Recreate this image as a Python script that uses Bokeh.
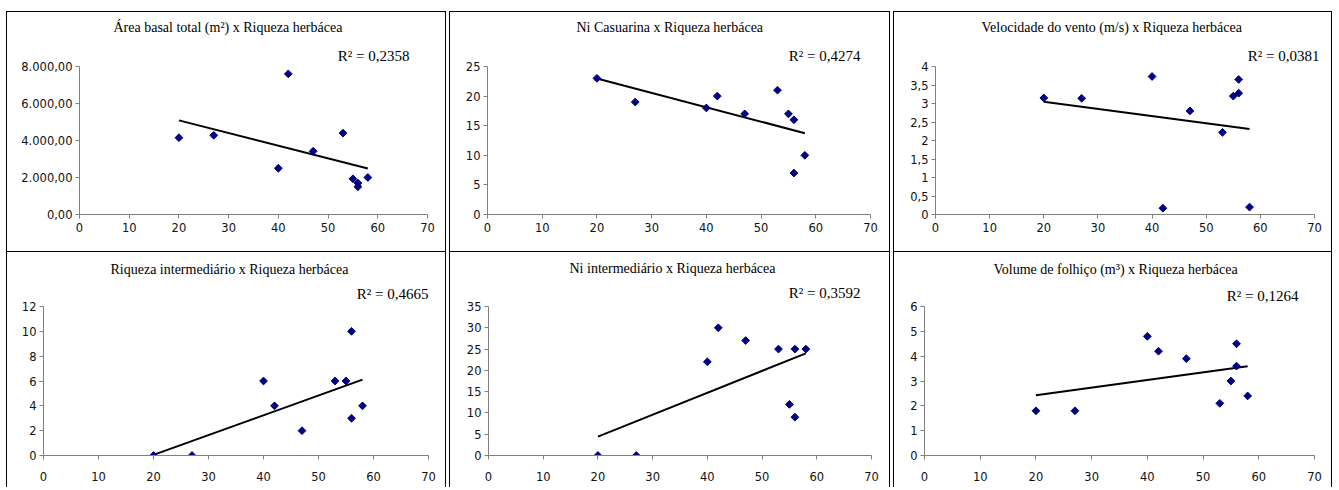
import numpy as np
from bokeh.plotting import figure
from bokeh.models import Title, FixedTicker, Spacer
from bokeh.layouts import row, column
from bokeh.embed import file_html
from bokeh.resources import INLINE

# ---------------- data ----------------
riqueza_herbacea = [20, 27, 40, 42, 47, 53, 55, 56, 56, 58]

area_basal = [4150, 4280, 2500, 7600, 3420, 4400, 1930, 1700, 1500, 2000]
ni_casuarina = [23, 19, 18, 20, 17, 21, 17, 16, 7, 10]
velocidade_vento = [3.15, 3.14, 3.73, 0.17, 2.80, 2.22, 3.20, 3.65, 3.28, 0.20]
riqueza_intermediario = [0, 0, 6, 4, 2, 6, 6, 10, 3, 4]
ni_intermediario = [0, 0, 22, 30, 27, 25, 12, 25, 9, 25]
volume_folhico = [1.8, 1.8, 4.8, 4.2, 3.9, 2.1, 3.0, 4.5, 3.6, 2.4]

titles = [
    "Área basal total (m²) x Riqueza herbácea",
    "Ni Casuarina x Riqueza herbácea",
    "Velocidade do vento (m/s)  x Riqueza herbácea",
    "Riqueza intermediário x Riqueza herbácea",
    "Ni intermediário x Riqueza herbácea",
    "Volume de folhiço (m³) x Riqueza herbácea",
]
r2_labels = ["R² = 0,2358", "R² = 0,4274", "R² = 0,0381",
             "R² = 0,4665", "R² = 0,3592", "R² = 0,1264"]

x_ticks = [0, 10, 20, 30, 40, 50, 60, 70]
y_ticks_1 = [0, 2000, 4000, 6000, 8000]
y_labels_1 = ["0,00", "2.000,00", "4.000,00", "6.000,00", "8.000,00"]
y_ticks_2 = [0, 5, 10, 15, 20, 25]
y_labels_2 = ["0", "5", "10", "15", "20", "25"]
y_ticks_3 = [0, 0.5, 1, 1.5, 2, 2.5, 3, 3.5, 4]
y_labels_3 = ["0", "0,5", "1", "1,5", "2", "2,5", "3", "3,5", "4"]
y_ticks_4 = [0, 2, 4, 6, 8, 10, 12]
y_labels_4 = ["0", "2", "4", "6", "8", "10", "12"]
y_ticks_5 = [0, 5, 10, 15, 20, 25, 30, 35]
y_labels_5 = ["0", "5", "10", "15", "20", "25", "30", "35"]
y_ticks_6 = [0, 1, 2, 3, 4, 5, 6]
y_labels_6 = ["0", "1", "2", "3", "4", "5", "6"]

series = [area_basal, ni_casuarina, velocidade_vento,
          riqueza_intermediario, ni_intermediario, volume_folhico]
yticks = [y_ticks_1, y_ticks_2, y_ticks_3, y_ticks_4, y_ticks_5, y_ticks_6]
ylabels = [y_labels_1, y_labels_2, y_labels_3, y_labels_4, y_labels_5, y_labels_6]

# ---------------- layout / style ----------------
widths = [440, 441, 439, 440, 441, 439]
heights = [241, 241, 241, 235, 235, 235]
left_b = [72, 37, 41, 36, 38, 30]
right_b = [20, 21, 19, 19, 20, 19]
top_b = [54, 54, 54, 54, 54, 54]
bottom_b = [39, 39, 39, 32, 32, 32]
x_standoff = [4, 4, 4, 12, 12, 12]

# main titles: left edge offset from frame left (px)
title_off = [34, 89, 46, 67, 81, 69]
title_standoff = [11, 11, 11, 0, 0, 8]
# R² labels: right edge offset from frame right (px)
r2_off = [18, 10, -5, 0, 11, 16]
r2_standoff = [6, 6, 6, 10, 11, 6]

SERIF = "Liberation Serif"
SANS = "DejaVu Sans"
AXIS_GRAY = "#808080"

figs = []
for i in range(6):
    ys = series[i]
    p = figure(width=widths[i], height=heights[i],
               x_range=(0, 70), y_range=(min(yticks[i]), max(yticks[i])),
               output_backend="svg", toolbar_location=None,
               min_border_left=left_b[i], min_border_right=right_b[i],
               min_border_top=top_b[i], min_border_bottom=bottom_b[i])
    p.grid.visible = False
    p.outline_line_color = None
    p.background_fill_color = "white"
    p.border_fill_color = "white"

    for ax in (p.xaxis[0], p.yaxis[0]):
        ax.axis_line_color = AXIS_GRAY
        ax.major_tick_line_color = AXIS_GRAY
        ax.minor_tick_line_color = None
        ax.major_tick_in = 0
        ax.major_tick_out = 4
        ax.major_label_text_font = SANS
        ax.major_label_text_font_size = "11.5px"
        ax.major_label_text_color = "#111111"
    p.xaxis.ticker = FixedTicker(ticks=x_ticks)
    p.xaxis.major_label_standoff = x_standoff[i]
    p.yaxis.ticker = FixedTicker(ticks=yticks[i])
    p.yaxis.major_label_overrides = {t: l for t, l in zip(yticks[i], ylabels[i])}
    p.yaxis.major_label_standoff = 3

    # linear trend line computed from the data
    a, b = np.polyfit(riqueza_herbacea, ys, 1)
    xl = np.array([min(riqueza_herbacea), max(riqueza_herbacea)], dtype=float)
    p.line(xl, a * xl + b, line_color="black", line_width=2)

    p.scatter(riqueza_herbacea, ys, marker="square", angle=np.pi / 4,
              size=5.5, fill_color="#000080", line_color="#000080")

    p.title.text = ""
    p.add_layout(Title(text=r2_labels[i], align="right", offset=r2_off[i],
                       standoff=r2_standoff[i], vertical_align="bottom",
                       text_font=SERIF, text_font_size="15px",
                       text_font_style="normal", text_color="black"), "above")
    p.add_layout(Title(text=titles[i], align="left", offset=title_off[i],
                       standoff=title_standoff[i], vertical_align="top",
                       text_font=SERIF, text_font_size="14px",
                       text_font_style="normal", text_color="black"), "above")

    if i < 3:
        p.styles = {"border": "1px solid black"}
    else:
        p.styles = {"border-left": "1px solid black", "border-right": "1px solid black"}
    figs.append(p)

layout = column(Spacer(height=11, width=10),
                row(Spacer(width=3, height=10), figs[0], figs[1], figs[2], spacing=3),
                row(Spacer(width=3, height=10), figs[3], figs[4], figs[5], spacing=3))

open("out.html", "w").write(file_html(layout, INLINE))
